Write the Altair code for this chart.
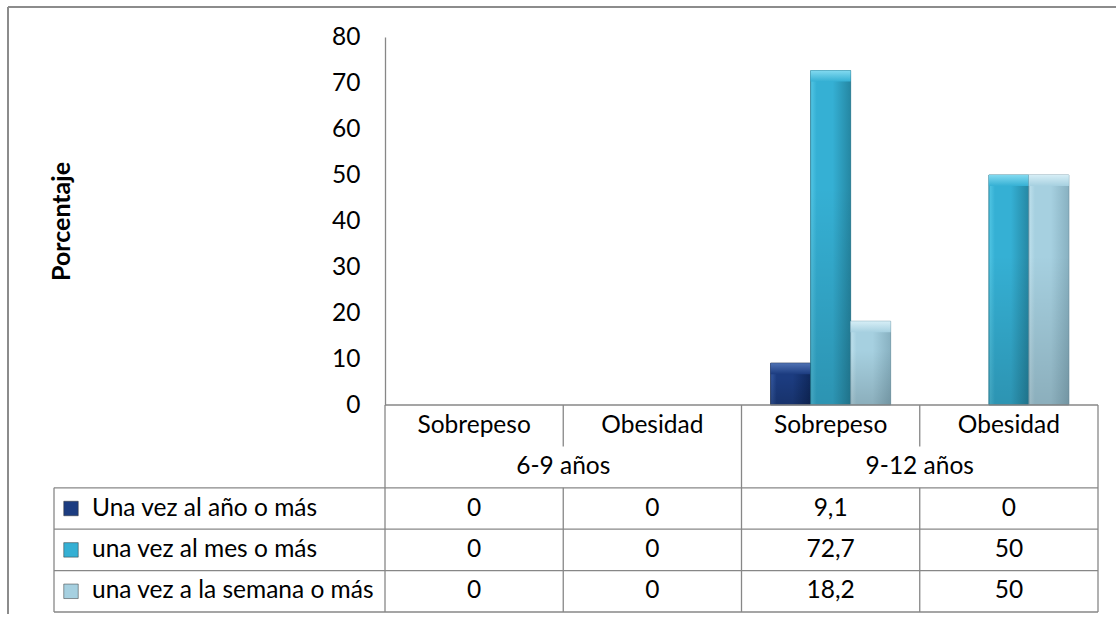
import altair as alt
import pandas as pd

# ---- data -------------------------------------------------------------
ages = ["6-9 años", "9-12 años"]
conditions = ["Sobrepeso", "Obesidad"]
series = ["Una vez al año o más", "una vez al mes o más", "una vez a la semana o más"]

# percentages in column order: 6-9 Sobrepeso, 6-9 Obesidad, 9-12 Sobrepeso, 9-12 Obesidad
una_vez_al_ano = [0, 0, 9.1, 0]
una_vez_al_mes = [0, 0, 72.7, 50]
una_vez_a_la_semana = [0, 0, 18.2, 50]
series_values = [una_vez_al_ano, una_vez_al_mes, una_vez_a_la_semana]

y_ticks = [0, 10, 20, 30, 40, 50, 60, 70, 80]

# ---- styling ----------------------------------------------------------
FONT = "Lato"
FS = 24.5
TEXT = "#000000"
GRID = "#878787"
palette = [
    dict(light="#34589F", face="#1C3C80", shade="#0F285C", cap="#4F72B4", stroke="#0B1E45"),
    dict(light="#52C6E4", face="#35B0D4", shade="#2587A3", cap="#82DAF0", stroke="#1A6E86"),
    dict(light="#BEE0EC", face="#A6D0E0", shade="#88B1C1", cap="#D6EEF6", stroke="#6B93A3"),
]

cols = [f"{a} | {c}" for a in ages for c in conditions]


def fmt(v):
    return f"{v:g}".replace(".", ",")


records = []
for si, (name, vals) in enumerate(zip(series, series_values)):
    for ci, v in enumerate(vals):
        records.append(dict(col=cols[ci], ci=ci, series=name, si=si, value=v, label=fmt(v)))
df = pd.DataFrame(records)

# ---- bar chart --------------------------------------------------------
x_bar = alt.X("col:N", scale=alt.Scale(domain=cols, paddingInner=0, paddingOuter=0), axis=None)
xo_bar = alt.XOffset("series:N", scale=alt.Scale(domain=series, paddingInner=0, paddingOuter=0.728))
y_scale = alt.Scale(domain=[0, 80], nice=False, zero=True)
y_axis = alt.Axis(
    values=y_ticks, grid=False, ticks=False, domain=True,
    domainColor=GRID, domainWidth=1.3,
    labelFont=FONT, labelFontSize=FS, labelColor=TEXT, labelPadding=25,
    labelOverlap=False,
    title="Porcentaje", titleFont=FONT, titleFontSize=25, titleFontWeight="bold",
    titleColor=TEXT, titleAngle=270, titleAlign="center", titleBaseline="middle",
    titleX=-324, titleY=184,
)


def hgrad(p):
    return alt.Gradient(
        gradient="linear", x1=0, x2=1, y1=0, y2=0,
        stops=[
            alt.GradientStop(color=p["light"], offset=0),
            alt.GradientStop(color=p["face"], offset=0.15),
            alt.GradientStop(color=p["face"], offset=0.55),
            alt.GradientStop(color=p["shade"], offset=1),
        ],
    )


def vgrad(top, bottom, start=0.0):
    return alt.Gradient(
        gradient="linear", x1=0, x2=0, y1=0, y2=1,
        stops=[
            alt.GradientStop(color=top, offset=start),
            alt.GradientStop(color=bottom, offset=1),
        ],
    )


bars = alt.Chart(df).transform_filter("datum.value > 0")
layers = []
for si, p in enumerate(palette):
    sub = bars.transform_filter(f"datum.si == {si}")
    face = sub.mark_bar(fill=hgrad(p), stroke=p["stroke"], strokeWidth=0.8).encode(
        x=x_bar, xOffset=xo_bar,
        y=alt.Y("value:Q", scale=y_scale, axis=y_axis if si == 0 else None),
    )
    shade = sub.mark_bar(fill=vgrad("rgba(0,0,0,0)", "rgba(0,0,0,0.16)", 0.35)).encode(
        x=x_bar, xOffset=xo_bar,
        y=alt.Y("value:Q", scale=y_scale, axis=None),
    )
    cap = sub.mark_bar(fill=vgrad(p["cap"], p["face"]), y2Offset=11).encode(
        x=x_bar, xOffset=xo_bar,
        y=alt.Y("value:Q", scale=y_scale, axis=None),
        y2=alt.Y2("value:Q"),
    )
    layers += [face, shade, cap]

# ---- data table under the plot ---------------------------------------
n_cols = len(cols)
n_rows = 2 + len(series)


def x_tab(field):
    return alt.X(f"{field}:Q", axis=None,
                 scale=alt.Scale(domain=[-1, 0, n_cols], range=[-331, 0, 713], nice=False, zero=False))


def y_tab(field):
    return alt.Y(f"{field}:Q", axis=None,
                 scale=alt.Scale(domain=[0, n_rows], range=[368, 575], nice=False, zero=False))


# vertical grid lines (column edge, top row, bottom row)
vlines = [dict(e=-1, r0=2, r1=n_rows)]
for ci in range(n_cols + 1):
    if ci % 2 == 1:
        vlines += [dict(e=ci, r0=0, r1=1), dict(e=ci, r0=2, r1=n_rows)]
    else:
        vlines.append(dict(e=ci, r0=0, r1=n_rows))
# horizontal grid lines (from edge, to edge, row)
hlines = [dict(e0=0, e1=n_cols, r=0)] + [dict(e0=-1, e1=n_cols, r=r) for r in range(2, n_rows + 1)]

rule_v = alt.Chart(pd.DataFrame(vlines)).mark_rule(color=GRID, strokeWidth=1.3).encode(
    x=x_tab("e"), y=y_tab("r0"), y2=alt.Y2("r1:Q"))
rule_h = alt.Chart(pd.DataFrame(hlines)).mark_rule(color=GRID, strokeWidth=1.3).encode(
    x=x_tab("e0"), x2=alt.X2("e1:Q"), y=y_tab("r"))

cond_df = pd.DataFrame([dict(ex=i + 0.5, ry=0.5, t=conditions[i % 2]) for i in range(n_cols)])
age_df = pd.DataFrame([dict(ex=2 * j + 1, ry=1.5, t=a) for j, a in enumerate(ages)])
cell_df = df.assign(ex=df["ci"] + 0.5, ry=df["si"] + 2.5)
legend_df = pd.DataFrame([dict(ex=-1, ry=si + 2.5, series=s) for si, s in enumerate(series)])

txt = dict(font=FONT, fontSize=FS, color=TEXT, baseline="middle")
cond_text = alt.Chart(cond_df).mark_text(align="center", **txt).encode(
    x=x_tab("ex"), y=y_tab("ry"), text="t:N")
age_text = alt.Chart(age_df).mark_text(align="center", **txt).encode(
    x=x_tab("ex"), y=y_tab("ry"), text="t:N")
cell_text = alt.Chart(cell_df).mark_text(align="center", **txt).encode(
    x=x_tab("ex"), y=y_tab("ry"), text="label:N")
legend_text = alt.Chart(legend_df).mark_text(align="left", dx=38, **txt).encode(
    x=x_tab("ex"), y=y_tab("ry"), text="series:N")
legend_swatch = alt.Chart(legend_df).mark_square(size=210, opacity=1, xOffset=17,
                                                 stroke="#333333", strokeWidth=0.5).encode(
    x=x_tab("ex"), y=y_tab("ry"),
    fill=alt.Fill("series:N", legend=None,
                  scale=alt.Scale(domain=series, range=[p["face"] for p in palette])),
)

# ---- chart frame (top and left border) --------------------------------
frame_df = pd.DataFrame({"k": [0]})
frame_top = alt.Chart(frame_df).mark_rule(color="#8C8C8C", strokeWidth=2).encode(
    x=alt.value(-377), x2=alt.value(731), y=alt.value(-30))
frame_left = alt.Chart(frame_df).mark_rule(color="#8C8C8C", strokeWidth=2).encode(
    x=alt.value(-377), y=alt.value(-30), y2=alt.value(600))

chart = alt.layer(
    *layers, rule_v, rule_h, cond_text, age_text, cell_text, legend_text, legend_swatch,
    frame_top, frame_left,
).resolve_scale(
    x="independent", y="independent"
).properties(
    width=713, height=368,
    padding={"left": 385, "top": 37, "right": 18, "bottom": 209},
    autosize=alt.AutoSizeParams(type="none"),
    background="white",
).configure_view(stroke=None)

chart.save("out.html", embed_options={"renderer": "svg", "actions": False})
